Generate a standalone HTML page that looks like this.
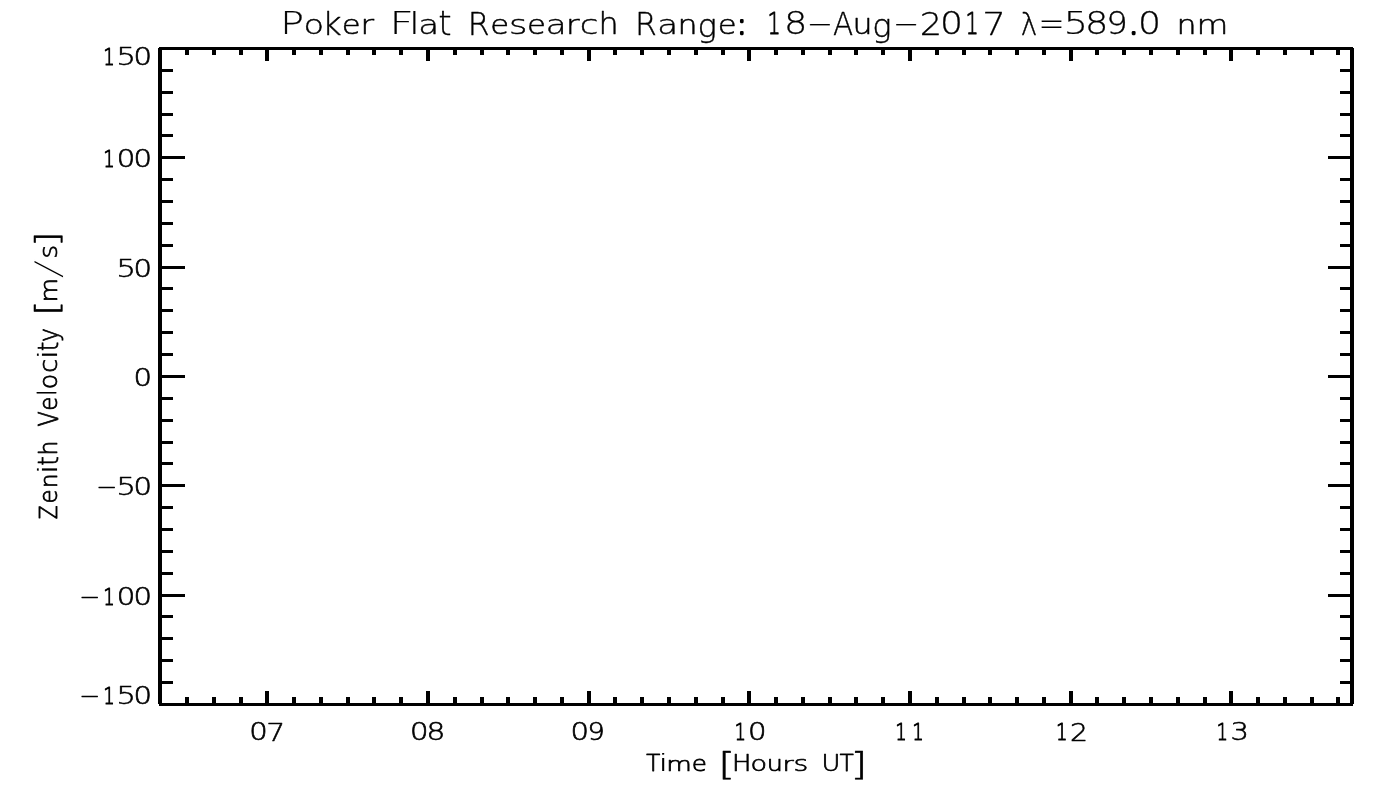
<!DOCTYPE html>
<html lang="en"><head><meta charset="utf-8"><title>Poker Flat Research Range: 18-Aug-2017 λ=589.0 nm</title>
<style>
html,body{margin:0;padding:0;background:#fff;overflow:hidden}
svg{display:block}
text{font-family:"DejaVu Sans Light","DejaVu Sans","Liberation Sans",sans-serif;font-weight:200;fill:#000;stroke:#000;stroke-linejoin:round;white-space:pre}
rect{fill:#000;shape-rendering:crispEdges}
</style></head><body>
<svg width="1400" height="800" viewBox="0 0 1400 800">
<rect x="0" y="0" width="1400" height="800" style="fill:#fff"/>
<g id="frame">
<rect x="159" y="47" width="1194" height="3"/>
<rect x="159" y="703" width="1194" height="3"/>
<rect x="158" y="48" width="4" height="656"/>
<rect x="1350" y="48" width="4" height="656"/>
</g>
<g id="xticks">
<rect x="185" y="50" width="4" height="5"/>
<rect x="185" y="697" width="4" height="6"/>
<rect x="212" y="50" width="4" height="5"/>
<rect x="212" y="697" width="4" height="6"/>
<rect x="239" y="50" width="4" height="5"/>
<rect x="239" y="697" width="4" height="6"/>
<rect x="265" y="50" width="4" height="11"/>
<rect x="265" y="691" width="4" height="12"/>
<rect x="292" y="50" width="4" height="5"/>
<rect x="292" y="697" width="4" height="6"/>
<rect x="319" y="50" width="4" height="5"/>
<rect x="319" y="697" width="4" height="6"/>
<rect x="346" y="50" width="4" height="5"/>
<rect x="346" y="697" width="4" height="6"/>
<rect x="372" y="50" width="4" height="5"/>
<rect x="372" y="697" width="4" height="6"/>
<rect x="399" y="50" width="4" height="5"/>
<rect x="399" y="697" width="4" height="6"/>
<rect x="426" y="50" width="4" height="11"/>
<rect x="426" y="691" width="4" height="12"/>
<rect x="453" y="50" width="4" height="5"/>
<rect x="453" y="697" width="4" height="6"/>
<rect x="480" y="50" width="4" height="5"/>
<rect x="480" y="697" width="4" height="6"/>
<rect x="506" y="50" width="4" height="5"/>
<rect x="506" y="697" width="4" height="6"/>
<rect x="533" y="50" width="4" height="5"/>
<rect x="533" y="697" width="4" height="6"/>
<rect x="560" y="50" width="4" height="5"/>
<rect x="560" y="697" width="4" height="6"/>
<rect x="587" y="50" width="4" height="11"/>
<rect x="587" y="691" width="4" height="12"/>
<rect x="613" y="50" width="4" height="5"/>
<rect x="613" y="697" width="4" height="6"/>
<rect x="640" y="50" width="4" height="5"/>
<rect x="640" y="697" width="4" height="6"/>
<rect x="667" y="50" width="4" height="5"/>
<rect x="667" y="697" width="4" height="6"/>
<rect x="694" y="50" width="4" height="5"/>
<rect x="694" y="697" width="4" height="6"/>
<rect x="721" y="50" width="4" height="5"/>
<rect x="721" y="697" width="4" height="6"/>
<rect x="747" y="50" width="4" height="11"/>
<rect x="747" y="691" width="4" height="12"/>
<rect x="774" y="50" width="4" height="5"/>
<rect x="774" y="697" width="4" height="6"/>
<rect x="801" y="50" width="4" height="5"/>
<rect x="801" y="697" width="4" height="6"/>
<rect x="828" y="50" width="4" height="5"/>
<rect x="828" y="697" width="4" height="6"/>
<rect x="854" y="50" width="4" height="5"/>
<rect x="854" y="697" width="4" height="6"/>
<rect x="881" y="50" width="4" height="5"/>
<rect x="881" y="697" width="4" height="6"/>
<rect x="908" y="50" width="4" height="11"/>
<rect x="908" y="691" width="4" height="12"/>
<rect x="935" y="50" width="4" height="5"/>
<rect x="935" y="697" width="4" height="6"/>
<rect x="962" y="50" width="4" height="5"/>
<rect x="962" y="697" width="4" height="6"/>
<rect x="988" y="50" width="4" height="5"/>
<rect x="988" y="697" width="4" height="6"/>
<rect x="1015" y="50" width="4" height="5"/>
<rect x="1015" y="697" width="4" height="6"/>
<rect x="1042" y="50" width="4" height="5"/>
<rect x="1042" y="697" width="4" height="6"/>
<rect x="1069" y="50" width="4" height="11"/>
<rect x="1069" y="691" width="4" height="12"/>
<rect x="1095" y="50" width="4" height="5"/>
<rect x="1095" y="697" width="4" height="6"/>
<rect x="1122" y="50" width="4" height="5"/>
<rect x="1122" y="697" width="4" height="6"/>
<rect x="1149" y="50" width="4" height="5"/>
<rect x="1149" y="697" width="4" height="6"/>
<rect x="1176" y="50" width="4" height="5"/>
<rect x="1176" y="697" width="4" height="6"/>
<rect x="1203" y="50" width="4" height="5"/>
<rect x="1203" y="697" width="4" height="6"/>
<rect x="1229" y="50" width="4" height="11"/>
<rect x="1229" y="691" width="4" height="12"/>
<rect x="1256" y="50" width="4" height="5"/>
<rect x="1256" y="697" width="4" height="6"/>
<rect x="1283" y="50" width="4" height="5"/>
<rect x="1283" y="697" width="4" height="6"/>
<rect x="1310" y="50" width="4" height="5"/>
<rect x="1310" y="697" width="4" height="6"/>
<rect x="1336" y="50" width="4" height="5"/>
<rect x="1336" y="697" width="4" height="6"/>
</g>
<g id="yticks">
<rect x="162" y="69" width="11" height="3"/>
<rect x="1340" y="69" width="10" height="3"/>
<rect x="162" y="91" width="11" height="3"/>
<rect x="1340" y="91" width="10" height="3"/>
<rect x="162" y="113" width="11" height="3"/>
<rect x="1340" y="113" width="10" height="3"/>
<rect x="162" y="134" width="11" height="3"/>
<rect x="1340" y="134" width="10" height="3"/>
<rect x="162" y="156" width="23" height="3"/>
<rect x="1328" y="156" width="22" height="3"/>
<rect x="162" y="178" width="11" height="3"/>
<rect x="1340" y="178" width="10" height="3"/>
<rect x="162" y="200" width="11" height="3"/>
<rect x="1340" y="200" width="10" height="3"/>
<rect x="162" y="222" width="11" height="3"/>
<rect x="1340" y="222" width="10" height="3"/>
<rect x="162" y="244" width="11" height="3"/>
<rect x="1340" y="244" width="10" height="3"/>
<rect x="162" y="266" width="23" height="3"/>
<rect x="1328" y="266" width="22" height="3"/>
<rect x="162" y="287" width="11" height="3"/>
<rect x="1340" y="287" width="10" height="3"/>
<rect x="162" y="309" width="11" height="3"/>
<rect x="1340" y="309" width="10" height="3"/>
<rect x="162" y="331" width="11" height="3"/>
<rect x="1340" y="331" width="10" height="3"/>
<rect x="162" y="353" width="11" height="3"/>
<rect x="1340" y="353" width="10" height="3"/>
<rect x="162" y="375" width="23" height="3"/>
<rect x="1328" y="375" width="22" height="3"/>
<rect x="162" y="397" width="11" height="3"/>
<rect x="1340" y="397" width="10" height="3"/>
<rect x="162" y="419" width="11" height="3"/>
<rect x="1340" y="419" width="10" height="3"/>
<rect x="162" y="441" width="11" height="3"/>
<rect x="1340" y="441" width="10" height="3"/>
<rect x="162" y="462" width="11" height="3"/>
<rect x="1340" y="462" width="10" height="3"/>
<rect x="162" y="484" width="23" height="3"/>
<rect x="1328" y="484" width="22" height="3"/>
<rect x="162" y="506" width="11" height="3"/>
<rect x="1340" y="506" width="10" height="3"/>
<rect x="162" y="528" width="11" height="3"/>
<rect x="1340" y="528" width="10" height="3"/>
<rect x="162" y="550" width="11" height="3"/>
<rect x="1340" y="550" width="10" height="3"/>
<rect x="162" y="572" width="11" height="3"/>
<rect x="1340" y="572" width="10" height="3"/>
<rect x="162" y="594" width="23" height="3"/>
<rect x="1328" y="594" width="22" height="3"/>
<rect x="162" y="615" width="11" height="3"/>
<rect x="1340" y="615" width="10" height="3"/>
<rect x="162" y="637" width="11" height="3"/>
<rect x="1340" y="637" width="10" height="3"/>
<rect x="162" y="659" width="11" height="3"/>
<rect x="1340" y="659" width="10" height="3"/>
<rect x="162" y="681" width="11" height="3"/>
<rect x="1340" y="681" width="10" height="3"/>
</g>
<text><tspan lengthAdjust="spacingAndGlyphs" x="280.32" y="33.88" font-size="31.23" stroke-width="0.23" textLength="23.74">P</tspan><tspan lengthAdjust="spacingAndGlyphs" x="303.62" y="34.34" font-size="27.00" stroke-width="0.43" textLength="20.60">o</tspan><tspan lengthAdjust="spacingAndGlyphs" x="321.91" y="34.82" font-size="31.11" stroke-width="0.37" textLength="19.71">k</tspan><tspan lengthAdjust="spacingAndGlyphs" x="341.81" y="34.36" font-size="26.96" stroke-width="0.52" textLength="18.86">e</tspan><tspan lengthAdjust="spacingAndGlyphs" x="360.34" y="33.78" font-size="26.00" stroke-width="0.44" textLength="13.87">r</tspan> <tspan lengthAdjust="spacingAndGlyphs" x="389.47" y="33.91" font-size="31.31" stroke-width="0.17" textLength="24.15">F</tspan><tspan lengthAdjust="spacingAndGlyphs" x="408.88" y="33.92" font-size="30.08" stroke-width="0.15" textLength="11.44">l</tspan><tspan lengthAdjust="spacingAndGlyphs" x="418.25" y="34.41" font-size="27.13" stroke-width="0.42" textLength="20.87">a</tspan><tspan lengthAdjust="spacingAndGlyphs" x="438.25" y="34.84" font-size="33.72" stroke-width="0.32" textLength="13.39">t</tspan> <tspan lengthAdjust="spacingAndGlyphs" x="467.71" y="34.79" font-size="32.35" stroke-width="0.42" textLength="21.89">R</tspan><tspan lengthAdjust="spacingAndGlyphs" x="490.27" y="34.36" font-size="26.96" stroke-width="0.52" textLength="18.86">e</tspan><tspan lengthAdjust="spacingAndGlyphs" x="508.93" y="34.42" font-size="27.19" stroke-width="0.39" textLength="18.38">s</tspan><tspan lengthAdjust="spacingAndGlyphs" x="527.12" y="34.36" font-size="26.96" stroke-width="0.52" textLength="18.86">e</tspan><tspan lengthAdjust="spacingAndGlyphs" x="545.65" y="34.41" font-size="27.13" stroke-width="0.42" textLength="20.87">a</tspan><tspan lengthAdjust="spacingAndGlyphs" x="565.66" y="33.78" font-size="26.00" stroke-width="0.44" textLength="13.87">r</tspan><tspan lengthAdjust="spacingAndGlyphs" x="579.83" y="34.40" font-size="27.12" stroke-width="0.42" textLength="18.63">c</tspan><tspan lengthAdjust="spacingAndGlyphs" x="598.56" y="33.77" font-size="29.68" stroke-width="0.45" textLength="20.15">h</tspan> <tspan lengthAdjust="spacingAndGlyphs" x="635.12" y="34.79" font-size="32.35" stroke-width="0.42" textLength="21.89">R</tspan><tspan lengthAdjust="spacingAndGlyphs" x="657.26" y="34.41" font-size="27.13" stroke-width="0.42" textLength="20.87">a</tspan><tspan lengthAdjust="spacingAndGlyphs" x="677.56" y="33.75" font-size="25.89" stroke-width="0.50" textLength="20.07">n</tspan><tspan lengthAdjust="spacingAndGlyphs" x="697.46" y="36.84" font-size="31.49" stroke-width="0.41" textLength="19.36">g</tspan><tspan lengthAdjust="spacingAndGlyphs" x="717.69" y="34.36" font-size="26.96" stroke-width="0.52" textLength="18.86">e</tspan><tspan lengthAdjust="spacingAndGlyphs" x="737.11" y="33.85" font-size="28.51" stroke-width="2.30" textLength="9.61">:</tspan> <tspan lengthAdjust="spacingAndGlyphs" x="767.58" y="33.50" font-size="30.18" stroke-width="1.00" textLength="13.15">1</tspan><tspan lengthAdjust="spacingAndGlyphs" x="783.93" y="34.41" font-size="31.35" stroke-width="0.29" textLength="23.40">8</tspan><tspan lengthAdjust="spacingAndGlyphs" x="806.53" y="33.15" font-size="30.86" stroke-width="0.20" textLength="26.81">-</tspan><tspan lengthAdjust="spacingAndGlyphs" x="832.93" y="34.76" font-size="32.27" stroke-width="0.48" textLength="20.23">A</tspan><tspan lengthAdjust="spacingAndGlyphs" x="852.51" y="34.40" font-size="27.71" stroke-width="0.48" textLength="20.10">u</tspan><tspan lengthAdjust="spacingAndGlyphs" x="872.24" y="36.84" font-size="31.49" stroke-width="0.41" textLength="19.36">g</tspan><tspan lengthAdjust="spacingAndGlyphs" x="892.87" y="33.15" font-size="30.86" stroke-width="0.20" textLength="26.81">-</tspan><tspan lengthAdjust="spacingAndGlyphs" x="919.74" y="34.84" font-size="31.90" stroke-width="0.32" textLength="22.37">2</tspan><tspan lengthAdjust="spacingAndGlyphs" x="939.99" y="34.39" font-size="31.30" stroke-width="0.31" textLength="23.02">0</tspan><tspan lengthAdjust="spacingAndGlyphs" x="965.52" y="33.50" font-size="30.18" stroke-width="1.00" textLength="13.15">1</tspan><tspan lengthAdjust="spacingAndGlyphs" x="982.27" y="34.87" font-size="32.56" stroke-width="0.26" textLength="23.65">7</tspan> <tspan lengthAdjust="spacingAndGlyphs" x="1020.82" y="34.73" font-size="31.88" stroke-width="0.54" textLength="16.45">λ</tspan><tspan lengthAdjust="spacingAndGlyphs" x="1038.28" y="36.35" font-size="36.55" stroke="#fff" stroke-width="0.10" textLength="26.57">=</tspan><tspan lengthAdjust="spacingAndGlyphs" x="1063.61" y="34.43" font-size="31.98" stroke-width="0.23" textLength="24.64">5</tspan><tspan lengthAdjust="spacingAndGlyphs" x="1085.05" y="34.41" font-size="31.35" stroke-width="0.29" textLength="23.40">8</tspan><tspan lengthAdjust="spacingAndGlyphs" x="1106.32" y="34.37" font-size="31.24" stroke-width="0.37" textLength="21.56">9</tspan><tspan lengthAdjust="spacingAndGlyphs" x="1128.70" y="33.85" font-size="30.86" stroke-width="2.30" textLength="9.81">.</tspan><tspan lengthAdjust="spacingAndGlyphs" x="1137.94" y="34.39" font-size="31.30" stroke-width="0.31" textLength="23.02">0</tspan> <tspan lengthAdjust="spacingAndGlyphs" x="1176.64" y="33.75" font-size="25.89" stroke-width="0.50" textLength="20.07">n</tspan><tspan lengthAdjust="spacingAndGlyphs" x="1196.51" y="33.77" font-size="25.95" stroke-width="0.47" textLength="31.89">m</tspan></text>
<g id="xlabels">
<text><tspan lengthAdjust="spacingAndGlyphs" x="249.28" y="740.35" font-size="24.32" stroke-width="0.59" textLength="18.50">0</tspan><tspan lengthAdjust="spacingAndGlyphs" x="266.26" y="740.72" font-size="25.30" stroke-width="0.56" textLength="18.99">7</tspan></text>
<text><tspan lengthAdjust="spacingAndGlyphs" x="409.95" y="740.35" font-size="24.32" stroke-width="0.59" textLength="18.50">0</tspan><tspan lengthAdjust="spacingAndGlyphs" x="426.60" y="740.37" font-size="24.36" stroke-width="0.58" textLength="18.80">8</tspan></text>
<text><tspan lengthAdjust="spacingAndGlyphs" x="570.61" y="740.35" font-size="24.32" stroke-width="0.59" textLength="18.50">0</tspan><tspan lengthAdjust="spacingAndGlyphs" x="587.44" y="740.33" font-size="24.26" stroke-width="0.65" textLength="17.30">9</tspan></text>
<text><tspan lengthAdjust="spacingAndGlyphs" x="734.62" y="739.70" font-size="23.59" stroke-width="1.00" textLength="11.51">1</tspan><tspan lengthAdjust="spacingAndGlyphs" x="748.13" y="740.35" font-size="24.32" stroke-width="0.59" textLength="18.50">0</tspan></text>
<text><tspan lengthAdjust="spacingAndGlyphs" x="895.29" y="739.70" font-size="23.59" stroke-width="1.00" textLength="11.51">1</tspan><tspan lengthAdjust="spacingAndGlyphs" x="912.13" y="739.70" font-size="23.59" stroke-width="1.00" textLength="11.51">1</tspan></text>
<text><tspan lengthAdjust="spacingAndGlyphs" x="1055.96" y="739.70" font-size="23.59" stroke-width="1.00" textLength="11.51">1</tspan><tspan lengthAdjust="spacingAndGlyphs" x="1070.11" y="740.69" font-size="24.77" stroke-width="0.61" textLength="17.96">2</tspan></text>
<text><tspan lengthAdjust="spacingAndGlyphs" x="1216.62" y="739.70" font-size="23.59" stroke-width="1.00" textLength="11.51">1</tspan><tspan lengthAdjust="spacingAndGlyphs" x="1230.52" y="740.36" font-size="24.34" stroke-width="0.59" textLength="18.45">3</tspan></text>
</g>
<text><tspan lengthAdjust="spacingAndGlyphs" x="646.15" y="770.59" font-size="22.19" stroke-width="0.82" textLength="13.97">T</tspan><tspan lengthAdjust="spacingAndGlyphs" x="657.88" y="770.90" font-size="23.43" stroke-width="0.20" textLength="11.07">i</tspan><tspan lengthAdjust="spacingAndGlyphs" x="666.36" y="770.65" font-size="20.18" stroke-width="0.70" textLength="25.61">m</tspan><tspan lengthAdjust="spacingAndGlyphs" x="691.84" y="771.32" font-size="21.32" stroke-width="0.76" textLength="15.17">e</tspan> <tspan lengthAdjust="spacingAndGlyphs" x="718.11" y="774.54" font-size="31.96" stroke-width="0.50" textLength="17.33">[</tspan><tspan lengthAdjust="spacingAndGlyphs" x="731.90" y="770.64" font-size="22.35" stroke-width="0.71" textLength="19.43">H</tspan><tspan lengthAdjust="spacingAndGlyphs" x="750.56" y="771.31" font-size="21.38" stroke-width="0.67" textLength="16.58">o</tspan><tspan lengthAdjust="spacingAndGlyphs" x="766.84" y="771.35" font-size="21.92" stroke-width="0.72" textLength="16.17">u</tspan><tspan lengthAdjust="spacingAndGlyphs" x="782.44" y="770.67" font-size="20.24" stroke-width="0.66" textLength="11.22">r</tspan><tspan lengthAdjust="spacingAndGlyphs" x="793.50" y="771.38" font-size="21.55" stroke-width="0.63" textLength="14.82">s</tspan> <tspan lengthAdjust="spacingAndGlyphs" x="821.45" y="771.32" font-size="23.27" stroke-width="0.71" textLength="18.84">U</tspan><tspan lengthAdjust="spacingAndGlyphs" x="839.88" y="770.59" font-size="22.19" stroke-width="0.82" textLength="13.97">T</tspan><tspan lengthAdjust="spacingAndGlyphs" x="850.35" y="774.54" font-size="31.96" stroke-width="0.50" textLength="17.33">]</tspan></text>
<g id="ylabels">
<text><tspan lengthAdjust="spacingAndGlyphs" x="103.23" y="64.70" font-size="23.59" stroke-width="1.00" textLength="11.51">1</tspan><tspan lengthAdjust="spacingAndGlyphs" x="116.23" y="65.39" font-size="24.86" stroke-width="0.52" textLength="19.80">5</tspan><tspan lengthAdjust="spacingAndGlyphs" x="133.58" y="65.35" font-size="24.32" stroke-width="0.59" textLength="18.50">0</tspan></text>
<text><tspan lengthAdjust="spacingAndGlyphs" x="103.23" y="166.70" font-size="23.59" stroke-width="1.00" textLength="11.51">1</tspan><tspan lengthAdjust="spacingAndGlyphs" x="116.73" y="167.35" font-size="24.32" stroke-width="0.59" textLength="18.50">0</tspan><tspan lengthAdjust="spacingAndGlyphs" x="133.58" y="167.35" font-size="24.32" stroke-width="0.59" textLength="18.50">0</tspan></text>
<text><tspan lengthAdjust="spacingAndGlyphs" x="116.23" y="277.39" font-size="24.86" stroke-width="0.52" textLength="19.80">5</tspan><tspan lengthAdjust="spacingAndGlyphs" x="133.58" y="277.35" font-size="24.32" stroke-width="0.59" textLength="18.50">0</tspan></text>
<text><tspan lengthAdjust="spacingAndGlyphs" x="133.58" y="386.35" font-size="24.32" stroke-width="0.59" textLength="18.50">0</tspan></text>
<text><tspan lengthAdjust="spacingAndGlyphs" x="95.94" y="494.47" font-size="24.28" stroke-width="0.33" textLength="21.43">-</tspan><tspan lengthAdjust="spacingAndGlyphs" x="116.23" y="495.39" font-size="24.86" stroke-width="0.52" textLength="19.80">5</tspan><tspan lengthAdjust="spacingAndGlyphs" x="133.58" y="495.35" font-size="24.32" stroke-width="0.59" textLength="18.50">0</tspan></text>
<text><tspan lengthAdjust="spacingAndGlyphs" x="79.10" y="604.47" font-size="24.28" stroke-width="0.33" textLength="21.43">-</tspan><tspan lengthAdjust="spacingAndGlyphs" x="103.23" y="604.70" font-size="23.59" stroke-width="1.00" textLength="11.51">1</tspan><tspan lengthAdjust="spacingAndGlyphs" x="116.73" y="605.35" font-size="24.32" stroke-width="0.59" textLength="18.50">0</tspan><tspan lengthAdjust="spacingAndGlyphs" x="133.58" y="605.35" font-size="24.32" stroke-width="0.59" textLength="18.50">0</tspan></text>
<text><tspan lengthAdjust="spacingAndGlyphs" x="79.10" y="703.47" font-size="24.28" stroke-width="0.33" textLength="21.43">-</tspan><tspan lengthAdjust="spacingAndGlyphs" x="103.23" y="703.70" font-size="23.59" stroke-width="1.00" textLength="11.51">1</tspan><tspan lengthAdjust="spacingAndGlyphs" x="116.23" y="704.39" font-size="24.86" stroke-width="0.52" textLength="19.80">5</tspan><tspan lengthAdjust="spacingAndGlyphs" x="133.58" y="704.35" font-size="24.32" stroke-width="0.59" textLength="18.50">0</tspan></text>
</g>
<text transform="translate(0 521.23) rotate(-90)"><tspan lengthAdjust="spacingAndGlyphs" x="1.87" y="56.54" font-size="25.64" stroke-width="0.91" textLength="13.90">Z</tspan><tspan lengthAdjust="spacingAndGlyphs" x="17.78" y="57.24" font-size="24.71" stroke-width="0.81" textLength="14.02">e</tspan><tspan lengthAdjust="spacingAndGlyphs" x="32.92" y="56.60" font-size="23.58" stroke-width="0.80" textLength="14.84">n</tspan><tspan lengthAdjust="spacingAndGlyphs" x="45.60" y="56.92" font-size="27.44" stroke-width="0.15" textLength="12.75">i</tspan><tspan lengthAdjust="spacingAndGlyphs" x="55.37" y="57.64" font-size="28.32" stroke-width="0.71" textLength="9.58">t</tspan><tspan lengthAdjust="spacingAndGlyphs" x="65.77" y="56.61" font-size="24.76" stroke-width="0.79" textLength="14.85">h</tspan> <tspan lengthAdjust="spacingAndGlyphs" x="94.71" y="57.60" font-size="27.15" stroke-width="0.81" textLength="15.29">V</tspan><tspan lengthAdjust="spacingAndGlyphs" x="110.43" y="57.24" font-size="24.71" stroke-width="0.81" textLength="14.02">e</tspan><tspan lengthAdjust="spacingAndGlyphs" x="126.45" y="56.45" font-size="24.36" stroke-width="1.09" textLength="4.06">l</tspan><tspan lengthAdjust="spacingAndGlyphs" x="132.09" y="57.23" font-size="24.77" stroke-width="0.72" textLength="15.43">o</tspan><tspan lengthAdjust="spacingAndGlyphs" x="148.36" y="57.29" font-size="24.87" stroke-width="0.72" textLength="13.88">c</tspan><tspan lengthAdjust="spacingAndGlyphs" x="160.15" y="56.92" font-size="27.44" stroke-width="0.15" textLength="12.75">i</tspan><tspan lengthAdjust="spacingAndGlyphs" x="169.93" y="57.64" font-size="28.32" stroke-width="0.71" textLength="9.58">t</tspan><tspan lengthAdjust="spacingAndGlyphs" x="179.18" y="57.68" font-size="26.13" stroke-width="0.77" textLength="13.90">y</tspan> <tspan lengthAdjust="spacingAndGlyphs" x="205.38" y="57.88" font-size="32.11" stroke-width="0.57" textLength="15.29">[</tspan><tspan lengthAdjust="spacingAndGlyphs" x="218.83" y="56.64" font-size="23.70" stroke-width="0.73" textLength="24.54">m</tspan><tspan lengthAdjust="spacingAndGlyphs" x="241.83" y="59.91" font-size="36.17" stroke="#fff" stroke-width="0.93" textLength="20.72">/</tspan><tspan lengthAdjust="spacingAndGlyphs" x="262.66" y="57.31" font-size="24.93" stroke-width="0.68" textLength="13.63">s</tspan><tspan lengthAdjust="spacingAndGlyphs" x="274.45" y="57.88" font-size="32.11" stroke-width="0.57" textLength="15.29">]</tspan></text>
</svg></body></html>
